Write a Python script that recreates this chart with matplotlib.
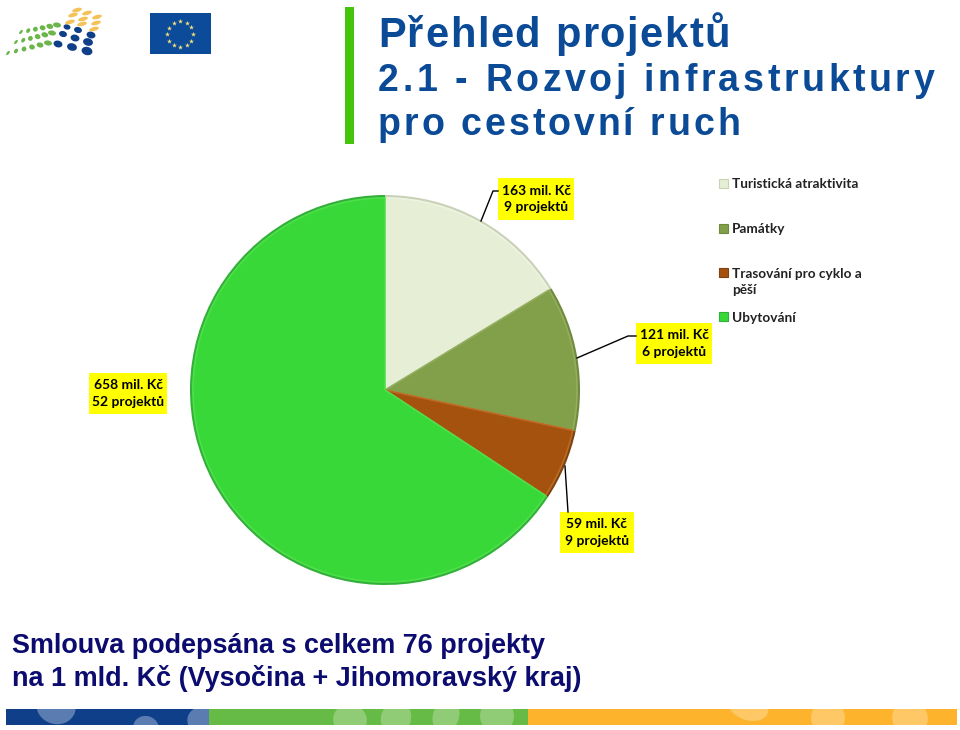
import matplotlib
matplotlib.use("Agg")
import matplotlib.pyplot as plt
from matplotlib.patches import Ellipse, Rectangle
from matplotlib.font_manager import FontProperties
from matplotlib.textpath import TextPath
import numpy as np

values = [163, 121, 59, 658]
categories = ['Turistická atraktivita', 'Památky', 'Trasování pro cyklo a\npěší', 'Ubytování']
colors = ['#e6eed6', '#82a04a', '#a5520f', '#38d838']
rims = ['#c9d2b6', '#6f8a3d', '#7d4310', '#33b03a']
bevels = ['#eef3e2', '#93ae5e', '#bd6a24', '#4ee04a']
labels = ['163 mil. Kč\n9 projektů', '121 mil. Kč\n6 projektů', '59 mil. Kč\n9 projektů', '658 mil. Kč\n52 projektů']
label_boxes = [(498, 178, 76, 42), (636, 323, 76, 41), (560, 512, 74, 41), (89, 373, 78, 41)]
leader_lines = [[(481, 221), (493, 191), (498, 191)],
                [(577, 358), (628, 336), (636, 336)],
                [(565, 466), (568, 512)],
                []]
legend_y = [183, 228, 272.5, 316.5]
title_lines = ['Přehled projektů', '2.1 - Rozvoj infrastruktury', 'pro cestovní ruch']
title_base = [47, 91, 135]
title_right = [730, 934, 740]
title_size = [30, 27, 27]
bottom_lines = ['Smlouva podepsána s celkem 76 projekty', 'na 1 mld. Kč (Vysočina + Jihomoravský kraj)']

W, H = 960, 730
fig = plt.figure(figsize=(W/100, H/100), dpi=100, facecolor='white')

# pie, rim first and then the slices a bit smaller
cx, cy, r = 385, 390, 195
pie_ax = fig.add_axes([(cx-r)/W, 1-(cy+r)/H, 2*r/W, 2*r/H])
pie_ax.pie(values, colors=rims, startangle=90, counterclock=False, radius=1)
wedges, _ = pie_ax.pie(values, colors=colors, startangle=90, counterclock=False, radius=0.985,
                       wedgeprops={'linewidth': 1.2})
for w, e in zip(wedges, bevels):
    w.set_edgecolor(e)
pie_ax.set_xlim(-1.0, 1.0)
pie_ax.set_ylim(-1.0, 1.0)
pie_ax.axis('off')

top = fig.add_axes([0, 0, 1, 1], facecolor='none')
top.set_xlim(0, W)
top.set_ylim(H, 0)
top.axis('off')


def spaced_text(ax, x0, x1, y, s, size, color):
    # matplotlib has no letter spacing, so place each character by hand
    fp = FontProperties(family='Liberation Sans', weight='bold', size=size)
    px = 100/72
    adv = [TextPath((0, 0), s[:i] + '|', prop=fp).get_extents().x1 * px for i in range(len(s)+1)]
    bar = adv[0]
    adv = [a - bar for a in adv]
    extra = (x1 - x0 - adv[-1]) / (len(s) - 1)
    for i, ch in enumerate(s):
        ax.text(x0 + adv[i] + i*extra, y, ch, fontproperties=fp, color=color, ha='left', va='baseline')


# title block
top.add_patch(Rectangle((345, 7), 9, 137, color='#44c40a', lw=0))
for t, y, x1, fs in zip(title_lines, title_base, title_right, title_size):
    spaced_text(top, 378, x1, y, t, fs, '#0a4a96')

# data labels
for t, (x, y, w, h), seg in zip(labels, label_boxes, leader_lines):
    top.add_patch(Rectangle((x, y), w, h, color='#ffff00', lw=0))
    top.text(x+w/2, y+h/2, t, fontsize=10, fontweight='bold', family='Lato', color='black',
             ha='center', va='center', linespacing=1.45)
    if seg:
        top.plot([p[0] for p in seg], [p[1] for p in seg], color='black', lw=1)

# legend
for t, y, c, e in zip(categories, legend_y, colors, rims):
    top.add_patch(Rectangle((719, y-4.5), 9, 9, facecolor=c, edgecolor=e, lw=0.8))
    top.text(732, y+1 if '\n' not in t else y+9, t, fontsize=9.8, fontweight='bold', family='Lato',
             color='#222222', ha='left', va='center', linespacing=1.4)

# bottom text
for t, y in zip(bottom_lines, [646, 679]):
    top.text(12, y, t, fontsize=19.45, fontweight='bold', family='Liberation Sans',
             color='#0b0b70', ha='left', va='center')

# footer band
sections = [(6, 203, '#0f3f88', '#5a7cb0', [(56, 706, 40, 36), (146, 728, 26, 24), (205, 722, 36, 30)]),
            (209, 319, '#66bb46', '#8fcc75', [(350, 720, 34, 32), (396, 718, 30, 34), (446, 716, 26, 34), (497, 716, 34, 34)]),
            (528, 429, '#fdb42c', '#fdc865', [(748, 706, 42, 28), (828, 718, 34, 34), (910, 718, 36, 34)])]
for x, w, c, light, blobs in sections:
    band = Rectangle((x, 709), w, 16, color=c, lw=0)
    top.add_patch(band)
    for bx, by, bw, bh in blobs:
        el = Ellipse((bx, by), bw, bh, angle=20, color=light, lw=0)
        top.add_patch(el)
        el.set_clip_path(band)

# EU flag
top.add_patch(Rectangle((150, 13), 61, 41, color='#0c4a9a', lw=0))
ang = np.radians(np.arange(0, 360, 30))
top.scatter(180 + 13*np.cos(ang), 34 + 13*np.sin(ang), s=14, marker='*', color='#f3e37a', lw=0)

# logo dots
green_rows = [(8, 53, 48, 43), (16, 42, 52, 33), (21, 32, 57, 25)]
for x0, y0, x1, y1 in green_rows:
    for i in range(6):
        top.add_patch(Ellipse((x0+(x1-x0)*i/5, y0+(y1-y0)*i/5), 2.5+i*1.1, 5, angle=40-i*6, color='#6cb54a', lw=0))
blue_dots = [(58, 44), (72, 47), (87, 51), (63, 34), (75, 38), (88, 42), (67, 27), (78, 30), (91, 35)]
blue_size = [9, 10, 11, 8, 9, 10, 7, 8, 9]
for (x, y), s in zip(blue_dots, blue_size):
    top.add_patch(Ellipse((x, y), s, s*0.75, angle=15, color='#0f3f88', lw=0))
yellow_dots = [(70, 22), (82, 24), (94, 29), (73, 15), (83, 19), (96, 23), (77, 10), (87, 13), (97, 17)]
for x, y in yellow_dots:
    top.add_patch(Ellipse((x, y), 10, 4, angle=-15, color='#f5c25a', lw=0))

fig.savefig('out.png', dpi=100)
